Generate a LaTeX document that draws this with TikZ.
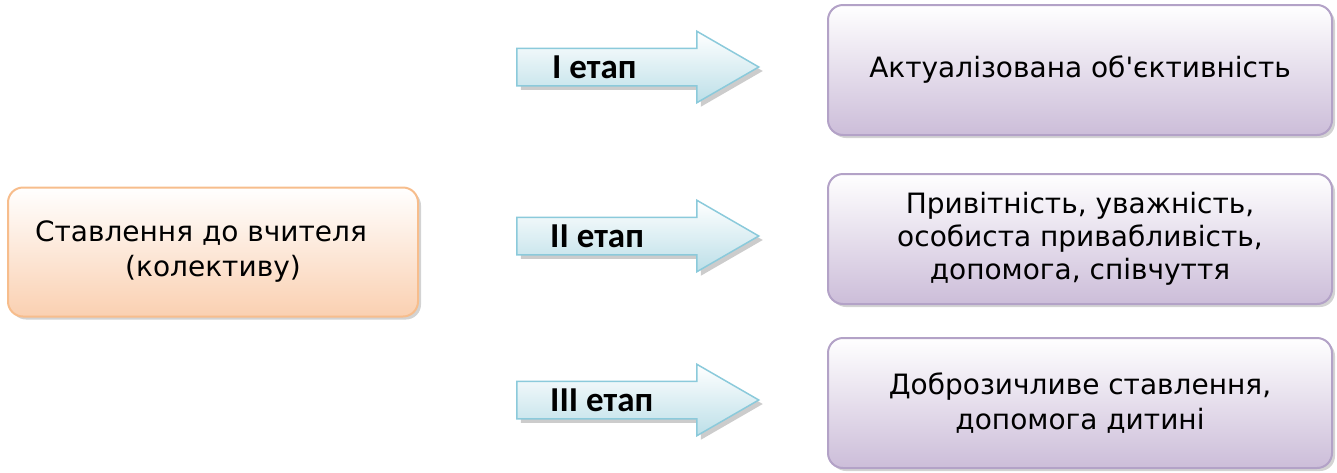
\documentclass[tikz,border=0pt]{standalone}
\usepackage{fontspec}
\setmainfont{DejaVu Sans}[Ligatures=TeXOff]
\newfontfamily\etapfont{Carlito}
\usetikzlibrary{shapes.arrows,shadows}
\definecolor{peachline}{HTML}{F7BD8C}
\definecolor{peachfill}{HTML}{FAD0B1}
\definecolor{lilacline}{HTML}{B3A2C7}
\definecolor{lilacfill}{HTML}{CCBDD9}
\definecolor{skyline}{HTML}{8BCADB}
\definecolor{skyfill}{HTML}{BCDFE8}

\begin{document}
\begin{tikzpicture}[x=1pt, y=-1pt,
      box/.style = {shape=rectangle, rounded corners=15pt, line width=2pt,
        align=center, font=\fontsize{28}{33}\selectfont,
        drop shadow={shadow xshift=3pt, shadow yshift=-3pt, opacity=0.35}},
      leftbox/.style = {box, draw=peachline, top color=white,
        bottom color=peachfill, minimum width=410pt, minimum height=129pt,
        font=\fontsize{28}{35}\selectfont},
      rightbox/.style = {box, draw=lilacline, top color=white,
        bottom color=lilacfill, minimum width=504pt, minimum height=130pt},
      stage/.style = {shape=single arrow, draw=skyline, line width=1.5pt,
        top color=white, bottom color=skyfill, inner xsep=0pt, inner ysep=18pt,
        minimum height=242pt, single arrow head extend=17pt,
        single arrow tip angle=60, anchor=tail,
        drop shadow={shadow xshift=4pt, shadow yshift=-4pt, opacity=0.4}},
      stagetext/.style = {anchor=west, inner sep=0pt,
        font=\etapfont\bfseries\fontsize{35}{35}\selectfont}]
      \useasboundingbox (0,0) rectangle (1337,472);
      \node[leftbox] (teacher) at (213,252) {Ставлення до вчителя\hspace*{24pt}\\(колективу)};
      \node[stage] (arrow1) at (516,67) {};
      \node[stage] (arrow2) at (516,236) {};
      \node[stage] (arrow3) at (516,400) {};
      \node[stagetext] (stage1) at ([xshift=36pt]arrow1.tail) {I етап};
      \node[stagetext] (stage2) at ([xshift=34pt]arrow2.tail) {II етап};
      \node[stagetext] (stage3) at ([xshift=34pt]arrow3.tail) {III етап};
      \node[rightbox] (result1) at (1080,70) {Актуалізована об'єктивність};
      \node[rightbox] (result2) at (1080,239) {Привітність, уважність,\\особиста привабливість,\\допомога, співчуття};
      \node[rightbox, font=\fontsize{28}{35}\selectfont] (result3) at (1080,403) {Доброзичливе ставлення,\\допомога дитині};
  \end{tikzpicture}
\end{document}
